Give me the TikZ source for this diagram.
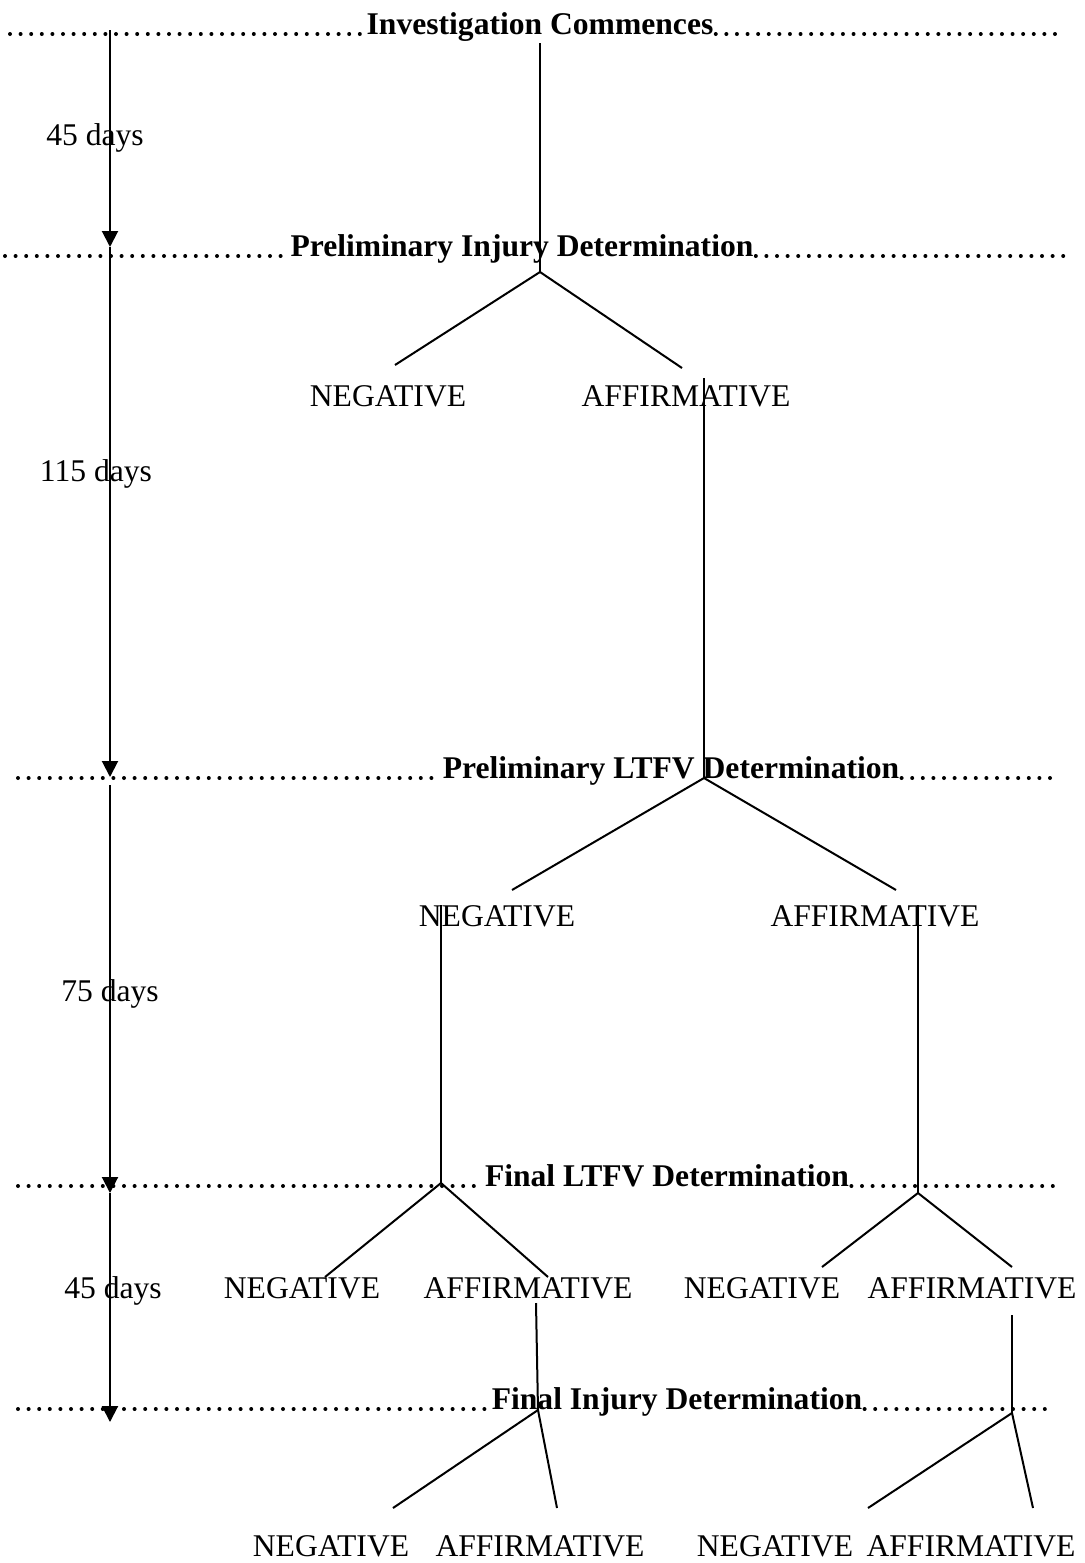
\documentclass[tikz,border=0pt]{standalone}
\usepackage{fontspec}
\setmainfont{Liberation Serif}
\usetikzlibrary{arrows.meta}
\newcommand\stagefont{\fontsize{15.8}{19}\selectfont}
\tikzset{
  head/.style={font=\stagefont\bfseries,inner sep=1pt,anchor=base},
  lab/.style={inner sep=1pt,anchor=base},
  leader/.style={line width=2pt,line cap=round,dash pattern=on 0pt off 5.3pt},
  branch/.style={line width=1pt},
  tline/.style={line width=1pt,-{Triangle[length=8pt,width=8pt]}}
}
\begin{document}
\begin{tikzpicture}[x=0.5pt,y=-0.5pt,font=\stagefont]
  \useasboundingbox (0,0) rectangle (1084,1563);
  % stages
  \node[head] (inv) at (540,34) {Investigation Commences};
  \node[head] (pinj) at (522,256) {Preliminary Injury Determination};
  \node[head] (pltfv) at (671,778) {Preliminary LTFV Determination};
  \node[head] (fltfv) at (667,1186) {Final LTFV Determination};
  \node[head] (finj) at (677,1409) {Final Injury Determination};
  \foreach \h/\y/\l/\r in {inv/34/10/1065,pinj/256/5/1070,pltfv/778/18/1060,
      fltfv/1186/18/1058,finj/1409/18/1053} {
    \draw[leader] (\l,\y) -- (\h.base west);
    \draw[leader] (\h.base east) -- (\r,\y);
  }
  % time line
  \coordinate (t0) at (110,30);
  \coordinate (t1) at (110,247);
  \coordinate (t2) at (110,777);
  \coordinate (t2b) at (110,785);
  \coordinate (t3) at (110,1193);
  \coordinate (t4) at (110,1422);
  \draw[tline] (t0) -- (t1);
  \draw[tline] (t1) -- (t2);
  \draw[tline] (t2b) -- (t3);
  \draw[tline] (t3) -- (t4);
  \node[lab] (d1) at (95,145) {45 days};
  \node[lab] (d2) at (96,481) {115 days};
  \node[lab] (d3) at (110,1001) {75 days};
  \node[lab] (d4) at (113,1298) {45 days};
  % outcomes
  \node[lab] (negA) at (388,406) {NEGATIVE};
  \node[lab] (affA) at (686,406) {AFFIRMATIVE};
  \node[lab] (negB) at (497,926) {NEGATIVE};
  \node[lab] (affB) at (875,926) {AFFIRMATIVE};
  \node[lab] (negC1) at (302,1298) {NEGATIVE};
  \node[lab] (affC1) at (528,1298) {AFFIRMATIVE};
  \node[lab] (negC2) at (762,1298) {NEGATIVE};
  \node[lab] (affC2) at (972,1298) {AFFIRMATIVE};
  \node[lab] (negD1) at (331,1556) {NEGATIVE};
  \node[lab] (affD1) at (540,1556) {AFFIRMATIVE};
  \node[lab] (negD2) at (775,1556) {NEGATIVE};
  \node[lab] (affD2) at (971,1556) {AFFIRMATIVE};
  % junctions and branch ends
  \coordinate (j1) at (540,272);
  \coordinate (j2) at (704,778);
  \coordinate (j3) at (441,1183);
  \coordinate (j4) at (918,1193);
  \coordinate (j5) at (538,1410);
  \coordinate (j6) at (1012,1413);
  \coordinate (s2) at (704,378);
  \coordinate (s3) at (441,905);
  \coordinate (s4) at (918,905);
  \coordinate (s5) at (536,1303);
  \coordinate (s6) at (1012,1315);
  \draw[branch] (inv.south) -- (j1);
  \draw[branch] (s2) -- (j2);
  \draw[branch] (s3) -- (j3);
  \draw[branch] (s4) -- (j4);
  \draw[branch] (s5) -- (j5);
  \draw[branch] (s6) -- (j6);
  \foreach \j/\a/\b in {j1/395/365,j1/682/368,j2/512/890,j2/896/890,
      j3/325/1277,j3/548/1277,j4/822/1267,j4/1012/1267,
      j5/393/1508,j5/557/1508,j6/868/1508,j6/1033/1508}
    \draw[branch] (\j) -- (\a,\b);
\end{tikzpicture}
\end{document}
